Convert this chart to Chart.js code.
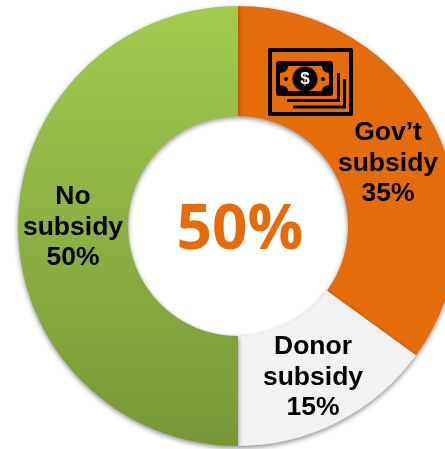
<!DOCTYPE html>
<html lang="en">
<head>
    <meta charset="UTF-8">
    <title>Subsidy share</title>
    <script src="https://cdn.jsdelivr.net/npm/chart.js"></script>
    <style>
        html, body { margin: 0; padding: 0; width: 445px; height: 449px; overflow: hidden; background: #fff; }
        canvas { display: block; }
    </style>
</head>
<body>
<canvas id="myChart" width="476" height="452"></canvas>
<script>
    const categories = ['Gov\u2019t subsidy', 'Donor subsidy', 'No subsidy'];
    const shares = [35, 15, 50];
    const sliceLabelLines = [['Gov\u2019t', 'subsidy'], ['Donor', 'subsidy'], ['No', 'subsidy']];
    const centerText = '50%';

    const orange = '#e46c0a';

    // label anchors, x and y of the first line
    const labelSpots = [[388, 133], [313, 347], [73, 197]];

    function sliceFill(context) {
        if (context.dataIndex === 0) return orange;
        if (context.dataIndex === 1) return '#f2f2f2';
        const g = context.chart.ctx.createLinearGradient(0, 6, 0, 446);
        g.addColorStop(0, '#a2cb4f');
        g.addColorStop(1, '#779737');
        return g;
    }

    // soft shadow under the ring
    const ringShadow = {
        id: 'ringShadow',
        beforeDatasetsDraw(chart) {
            const c = chart.ctx;
            c.save();
            c.shadowColor = 'rgba(0,0,0,0.45)';
            c.shadowBlur = 5;
            c.shadowOffsetY = 2;
        },
        afterDatasetsDraw(chart) {
            chart.ctx.restore();
        }
    };

    function drawMoneyIcon(c) {
        c.save();
        c.strokeStyle = '#000';
        c.fillStyle = '#000';
        c.lineWidth = 4;
        c.lineJoin = 'round';
        c.strokeRect(270, 50, 81, 64);

        // banknote with notched corners
        c.beginPath();
        c.roundRect(276, 61, 57, 35, 3);
        c.fill();
        c.fillStyle = orange;
        c.beginPath();
        c.moveTo(288, 66);
        c.lineTo(322, 66);
        c.quadraticCurveTo(322, 72, 329, 73);
        c.lineTo(329, 85);
        c.quadraticCurveTo(322, 86, 322, 91);
        c.lineTo(288, 91);
        c.quadraticCurveTo(288, 86, 280, 85);
        c.lineTo(280, 73);
        c.quadraticCurveTo(288, 72, 288, 66);
        c.fill();

        c.fillStyle = '#000';
        c.beginPath();
        c.arc(305, 79, 12.5, 0, Math.PI * 2);
        c.fill();
        c.beginPath();
        c.arc(286, 79, 2, 0, Math.PI * 2);
        c.fill();
        c.beginPath();
        c.arc(323, 79, 2, 0, Math.PI * 2);
        c.fill();

        c.fillStyle = '#fff';
        c.font = 'bold 17px "Liberation Sans"';
        c.textAlign = 'center';
        c.textBaseline = 'middle';
        c.fillText('$', 305, 79);

        // stacked notes behind
        c.lineWidth = 3;
        c.lineJoin = 'miter';
        c.beginPath();
        c.moveTo(287, 100.5);
        c.lineTo(338.5, 100.5);
        c.lineTo(338.5, 73);
        c.moveTo(293, 107);
        c.lineTo(344.5, 107);
        c.lineTo(344.5, 79);
        c.stroke();
        c.restore();
    }

    const ringText = {
        id: 'ringText',
        afterDraw(chart) {
            const c = chart.ctx;
            const lineGap = 30.5;
            c.save();
            c.textAlign = 'center';
            c.textBaseline = 'middle';
            c.fillStyle = '#000';
            c.font = 'bold 26.5px "Liberation Sans"';
            sliceLabelLines.forEach((lines, i) => {
                const [x, y] = labelSpots[i];
                lines.concat(shares[i] + '%').forEach((line, n) => {
                    c.fillText(line, x, y + n * lineGap);
                });
            });
            const arc = chart.getDatasetMeta(0).data[0];
            c.fillStyle = orange;
            c.font = 'bold 62px "Open Sans"';
            c.fillText(centerText, arc.x + 2, arc.y + 5);
            c.restore();
            drawMoneyIcon(c);
        }
    };

    new Chart(document.getElementById('myChart'), {
        type: 'doughnut',
        data: {
            labels: categories,
            datasets: [{
                data: shares,
                backgroundColor: sliceFill,
                borderWidth: 0
            }]
        },
        options: {
            responsive: false,
            animation: false,
            radius: 220,
            cutout: 113,
            plugins: {
                legend: { display: false },
                tooltip: { enabled: false }
            }
        },
        plugins: [ringShadow, ringText]
    });
</script>
</body>
</html>
